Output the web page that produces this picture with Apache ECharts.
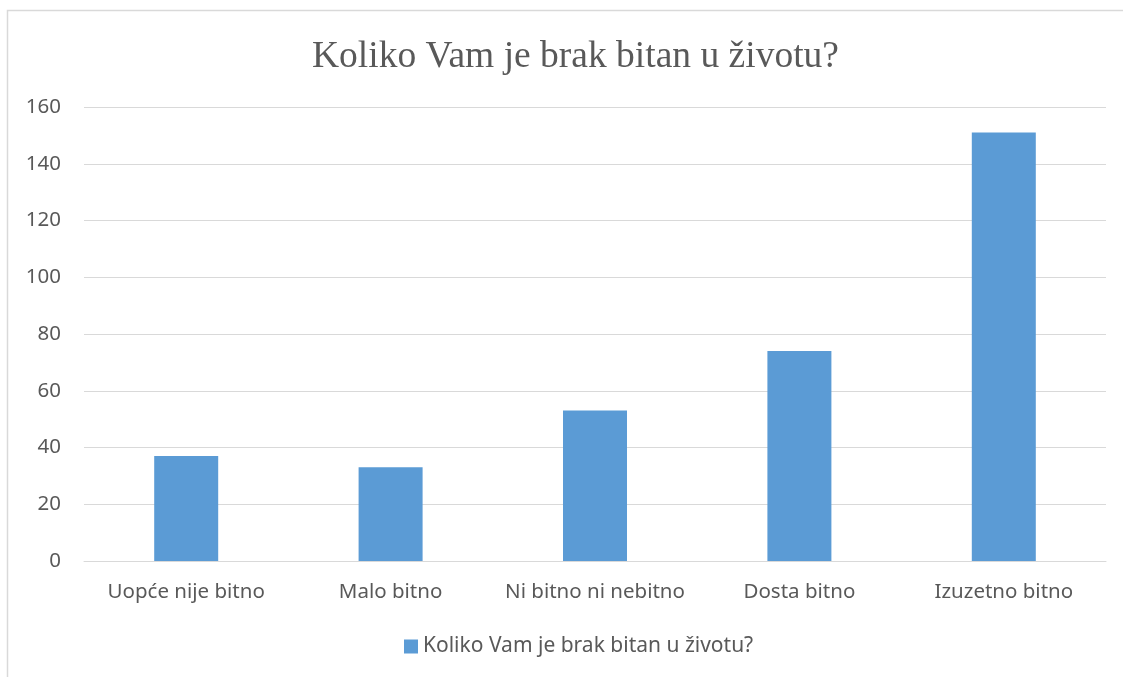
<!DOCTYPE html>
<html><head><meta charset="utf-8">
<script src="https://cdn.jsdelivr.net/npm/echarts@6/dist/echarts.min.js"></script>
<style>html,body{margin:0;padding:0;background:#fff}#c{width:1123px;height:677px}</style>
</head><body><div id="c"></div>
<script>
const titleText = 'Koliko Vam je brak bitan u životu?';
const seriesName = 'Koliko Vam je brak bitan u životu?';
const categories = ['Uopće nije bitno', 'Malo bitno', 'Ni bitno ni nebitno', 'Dosta bitno', 'Izuzetno bitno'];
const values = [37, 33, 53, 74, 151];

const chart = echarts.init(document.getElementById('c'));
chart.setOption({
  animation: false,
  backgroundColor: '#fff',
  graphic: [{
    type: 'rect', shape: {x: 7.5, y: 10.5, width: 1200, height: 800},
    style: {fill: 'none', stroke: '#d9d9d9', lineWidth: 1.5}, silent: true
  }],
  title: {
    text: titleText, left: 307, top: 33,
    textStyle: {fontFamily: 'Liberation Serif', fontSize: 37.5, fontWeight: 'normal', color: '#595959'}
  },
  legend: {
    bottom: 15, left: 399, itemWidth: 14, itemHeight: 14, icon: 'rect', itemGap: 6,
    textStyle: {fontFamily: 'Noto Sans', fontSize: 21, color: '#595959'}
  },
  grid: {left: 84, right: 17, top: 107, bottom: 116, containLabel: false},
  xAxis: {
    type: 'category', data: categories,
    axisLine: {show: true, lineStyle: {color: '#d9d9d9', width: 1}},
    axisTick: {show: false},
    axisLabel: {fontFamily: 'Noto Sans', fontSize: 20.5, color: '#595959', margin: 21, interval: 0}
  },
  yAxis: {
    type: 'value', min: 0, max: 160, interval: 20,
    axisLine: {show: false}, axisTick: {show: false},
    splitLine: {lineStyle: {color: '#d9d9d9', width: 1}},
    axisLabel: {fontFamily: 'Noto Sans', fontSize: 20.5, color: '#595959', margin: 23}
  },
  series: [{
    name: seriesName, type: 'bar', data: values, barWidth: 64,
    itemStyle: {color: '#5b9bd5'}
  }]
});
</script></body></html>
